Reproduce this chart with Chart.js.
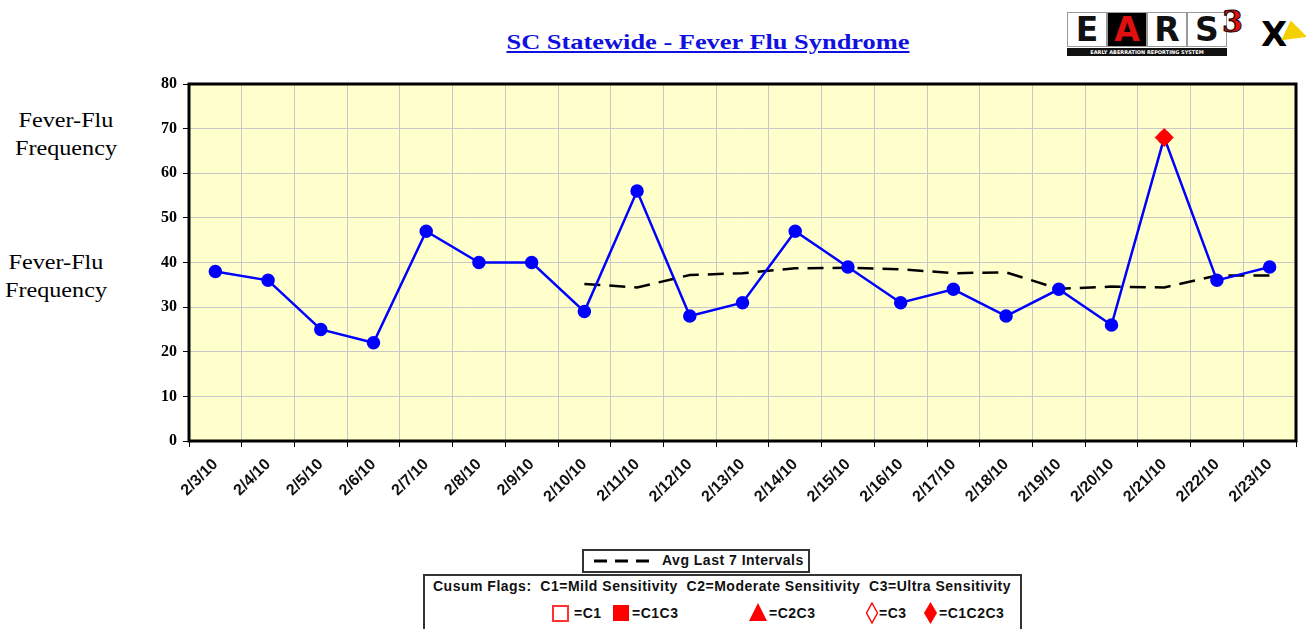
<!DOCTYPE html>
<html>
<head>
<meta charset="utf-8">
<script src="https://cdn.jsdelivr.net/npm/chart.js@4.4.1/dist/chart.umd.min.js"></script>
<style>
  body { margin: 0; background: #fff; width: 1306px; height: 629px; overflow: hidden; position: relative; }
  #wrap { position: absolute; left: 0; top: 0; width: 1306px; height: 545px; }
  .abs { position: absolute; white-space: nowrap; }
  .title { left: 0; width: 1416px; top: 29px; text-align: center; font: bold 22px "Liberation Serif", serif; color: #1010e0; text-decoration: underline; transform: scaleX(1.2); transform-origin: 708px 0; }
  .ylab { font: 21px "Liberation Serif", serif; color: #000; line-height: 28px; text-align: center; transform: scaleX(1.15); }
  .lg { font: bold 14px "Liberation Sans", Arial, sans-serif; letter-spacing: 0.5px; color: #111; }
  .box { border: 2px solid #333; background: #fff; }
  .cell { position: absolute; top: 0; width: 38px; height: 33px; border: 1px solid #999; background: #fff; font: bold 33px "DejaVu Sans", sans-serif; line-height: 33px; text-align: center; color: #111; }
</style>
</head>
<body>
<div class="abs title">SC Statewide - Fever Flu Syndrome</div>

<!-- logo -->
<div class="abs" style="left:1067px;top:12px;width:160px;height:45px;">
  <div class="cell" style="left:0;">E</div>
  <div class="cell" style="left:40px;background:#000;color:#e01010;">A</div>
  <div class="cell" style="left:80px;">R</div>
  <div class="cell" style="left:120px;">S</div>
  <div class="abs" style="left:0;top:36px;width:160px;height:8px;background:#111;color:#fff;font:bold 5px 'DejaVu Sans',sans-serif;line-height:8px;text-align:center;">EARLY ABERRATION REPORTING SYSTEM</div>
</div>
<div class="abs" style="left:1222px;top:4px;font:bold 30px 'DejaVu Serif',serif;color:#e01010;-webkit-text-stroke:1px #000;">3</div>
<div class="abs" style="left:1261px;top:14px;font:bold 34px 'DejaVu Sans',sans-serif;color:#000;">X</div>
<div class="abs" style="left:1285px;top:24px;width:0;height:0;border-left:22px solid #f5d000;border-top:8px solid transparent;border-bottom:14px solid transparent;transform:rotate(25deg);"></div>

<div class="abs ylab" style="left:12px;top:106px;width:108px;">Fever-Flu<br>Frequency</div>
<div class="abs ylab" style="left:2px;top:248px;width:108px;">Fever-Flu<br>Frequency</div>

<div id="wrap"><canvas id="chartFlu"></canvas></div>

<!-- legends -->
<div class="abs box" style="left:582px;top:549px;width:224px;height:20px;">
  <svg class="abs" style="left:9px;top:6px;" width="60" height="8"><line x1="1" y1="4" x2="58" y2="4" stroke="#000" stroke-width="3" stroke-dasharray="13,8"/></svg>
  <span class="abs lg" style="left:78px;top:1px;">Avg Last 7 Intervals</span>
</div>
<div class="abs box" style="left:423px;top:574px;width:595px;height:60px;">
  <span class="abs lg" style="left:8px;top:2px;">Cusum Flags:&nbsp; C1=Mild Sensitivity&nbsp; C2=Moderate Sensitivity&nbsp; C3=Ultra Sensitivity</span>
  <svg class="abs" style="left:127px;top:29px;" width="17" height="17"><rect x="1" y="1" width="15" height="15" fill="#fff" stroke="#f33" stroke-width="2"/></svg>
  <span class="abs lg" style="left:149px;top:29px;">=C1</span>
  <svg class="abs" style="left:188px;top:29px;" width="17" height="17"><rect x="0" y="0" width="16" height="16" fill="#f00"/></svg>
  <span class="abs lg" style="left:207px;top:29px;">=C1C3</span>
  <svg class="abs" style="left:323px;top:27px;" width="20" height="19"><polygon points="10,0 19,18 1,18" fill="#f00"/></svg>
  <span class="abs lg" style="left:344px;top:29px;">=C2C3</span>
  <svg class="abs" style="left:440px;top:26px;" width="14" height="22"><polygon points="7,1 12.5,11 7,21 1.5,11" fill="#fff" stroke="#f00" stroke-width="1.4"/></svg>
  <span class="abs lg" style="left:454px;top:29px;">=C3</span>
  <svg class="abs" style="left:498px;top:26px;" width="15" height="22"><polygon points="7.5,0 14,11 7.5,22 1,11" fill="#f00"/></svg>
  <span class="abs lg" style="left:514px;top:29px;">=C1C2C3</span>
</div>

<script>
/* ---------- data ---------- */
const dates = ['2/3/10','2/4/10','2/5/10','2/6/10','2/7/10','2/8/10','2/9/10','2/10/10',
  '2/11/10','2/12/10','2/13/10','2/14/10','2/15/10','2/16/10','2/17/10','2/18/10',
  '2/19/10','2/20/10','2/21/10','2/22/10','2/23/10'];
const feverFlu = [38, 36, 25, 22, 47, 40, 40, 29, 56, 28, 31, 47, 39, 31, 34, 28, 34, 26, 68, 36, 39];
const avgLast7 = [null, null, null, null, null, null, null, 35.2, 34.4, 37.2, 37.6, 38.7, 38.8,
  38.5, 37.6, 37.8, 34.1, 34.6, 34.4, 37.1, 37.1];
const flagC1C2C3 = [null, null, null, null, null, null, null, null, null, null, null, null, null,
  null, null, null, null, null, 68, null, null];
const yTicks = [0, 10, 20, 30, 40, 50, 60, 70, 80];

/* ---------- plot background + frame ---------- */
const plotFrame = {
  id: 'plotFrame',
  beforeDraw(chart) {
    const a = chart.chartArea, c = chart.ctx;
    c.save();
    c.fillStyle = '#FFFFCC';
    c.fillRect(a.left, a.top, a.right - a.left, a.bottom - a.top);
    c.restore();
  },
  afterDraw(chart) {
    const a = chart.chartArea, c = chart.ctx;
    c.save();
    c.strokeStyle = '#000';
    c.lineWidth = 3;
    c.strokeRect(a.left, a.top, a.right - a.left, a.bottom - a.top);
    c.restore();
  }
};

const ctx = document.getElementById('chartFlu').getContext('2d');
const chartFlu = new Chart(ctx, {
  type: 'line',
  data: {
    labels: dates,
    datasets: [
      {
        label: 'C1C2C3',
        data: flagC1C2C3,
        showLine: false,
        pointStyle: 'rectRot',
        pointRadius: 9,
        pointBackgroundColor: '#ff0000',
        pointBorderColor: '#ff0000',
        order: 0
      },
      {
        label: 'Fever-Flu',
        data: feverFlu,
        borderColor: '#0000ff',
        borderWidth: 2.5,
        pointRadius: 5.5,
        pointBackgroundColor: '#0000ff',
        pointBorderColor: '#0000ff',
        tension: 0,
        order: 1
      },
      {
        label: 'Avg Last 7 Intervals',
        data: avgLast7,
        borderColor: '#000',
        borderWidth: 2.5,
        borderDash: [16, 9],
        pointRadius: 0,
        tension: 0,
        order: 2
      }
    ]
  },
  options: {
    responsive: true,
    maintainAspectRatio: false,
    animation: false,
    layout: { padding: { left: 149, right: 8, top: 84, bottom: 34 } },
    plugins: { legend: { display: false }, tooltip: { enabled: false } },
    scales: {
      x: {
        offset: true,
        grid: { offset: true, color: '#c8c8c8', lineWidth: 1, tickLength: 6, tickColor: '#000' },
        border: { display: false },
        ticks: {
          color: '#111',
          font: { family: '"Liberation Sans", Arial, sans-serif', size: 16, weight: 'bold' },
          minRotation: 45, maxRotation: 45, autoSkip: false, padding: 8
        },
        afterFit(scale) { scale.height = 70; }
      },
      y: {
        min: 0, max: 80,
        afterBuildTicks(scale) { scale.ticks = yTicks.map(v => ({ value: v })); },
        grid: { color: '#c8c8c8', lineWidth: 1, tickLength: 6, tickColor: '#000' },
        border: { display: false },
        ticks: {
          color: '#000', padding: 6,
          font: { family: '"Liberation Serif", serif', size: 16, weight: 'bold' }
        },
        afterFit(scale) { scale.width = 40; }
      }
    }
  },
  plugins: [plotFrame]
});
</script>
</body>
</html>
